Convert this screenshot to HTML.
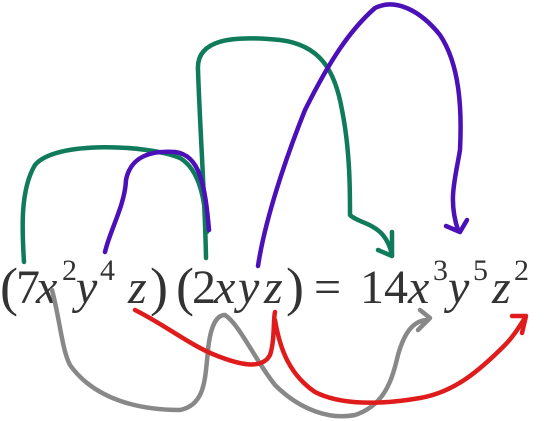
<!DOCTYPE html>
<html><head><meta charset="utf-8"><style>
html,body{margin:0;padding:0;background:#fff;width:556px;height:421px;overflow:hidden}
svg{display:block}
text{font-family:"Liberation Serif",serif;fill:#333}
.i{font-style:italic}
path{fill:none;stroke-width:4.5;stroke-linecap:round;stroke-linejoin:round}
</style></head><body>
<svg width="556" height="421" viewBox="0 0 556 421">
 <g font-size="48">
  <text x="0" y="305" font-size="54">(</text>
  <text x="16" y="303">7</text>
  <text x="36" y="303" class="i">x</text>
  <text x="62" y="280" font-size="30">2</text>
  <text x="76" y="303" class="i">y</text>
  <text x="100" y="280" font-size="30">4</text>
  <text x="128" y="303" class="i">z</text>
  <text x="150" y="305" font-size="54">)</text>
  <text x="176" y="305" font-size="54">(</text>
  <text x="192" y="303">2</text>
  <text x="214" y="303" class="i">x</text>
  <text x="238" y="303" class="i">y</text>
  <text x="264" y="303" class="i">z</text>
  <text x="286" y="305" font-size="54">)</text>
  <text x="314" y="303">=</text>
  <text x="360" y="303">14</text>
  <text x="408" y="303" class="i">x</text>
  <text x="433" y="280" font-size="30">3</text>
  <text x="448" y="303" class="i">y</text>
  <text x="473" y="280" font-size="30">5</text>
  <text x="492" y="303" class="i">z</text>
  <text x="514" y="280" font-size="30">2</text>
 </g>
 <g stroke="#0f7b5a">
  <path d="M24 262 C22 230 20 190 35 165 C55 140 150 145 180 158 C200 170 205 200 207 232"/>
  <path d="M206 258 C205 200 200 130 198 70 C196 40 230 35 280 40 C320 45 335 70 342 110 C350 150 350 190 350 215 C360 225 385 222 392 255"/>
  <path d="M378 250 L392 256 L392 232"/>
 </g>
 <g stroke="#4b10b8">
  <path d="M105 252 C110 230 125 205 126 180 C130 160 145 150 175 152 C200 155 205 185 209 230"/>
  <path d="M258 266 C265 220 285 160 305 110 C330 60 350 30 375 8 C395 -2 420 10 440 35 C460 65 462 110 460 150 C455 180 448 200 458 230"/>
  <path d="M446 226 L460 232 L467 220"/>
 </g>
 <g stroke="#888">
  <path d="M52 290 C60 320 62 350 70 365 C95 400 140 410 180 410 C205 405 205 380 208 350 C210 330 215 315 225 315 C240 325 255 360 275 385 C300 410 330 420 355 415 C385 405 392 380 398 355 C405 330 415 320 428 320"/>
  <path d="M420 310 L430 318 L418 330"/>
 </g>
 <g stroke="#e01b1b">
  <path d="M135 310 C165 325 190 345 215 355 C240 365 262 370 270 355 C275 340 273 320 275 312"/>
  <path d="M275 320 C280 350 290 375 315 392 C340 405 380 405 420 398 C455 392 480 370 505 345 C515 335 520 325 525 318"/>
  <path d="M512 316 L526 316 L522 333"/>
 </g>
</svg>
</body></html>
